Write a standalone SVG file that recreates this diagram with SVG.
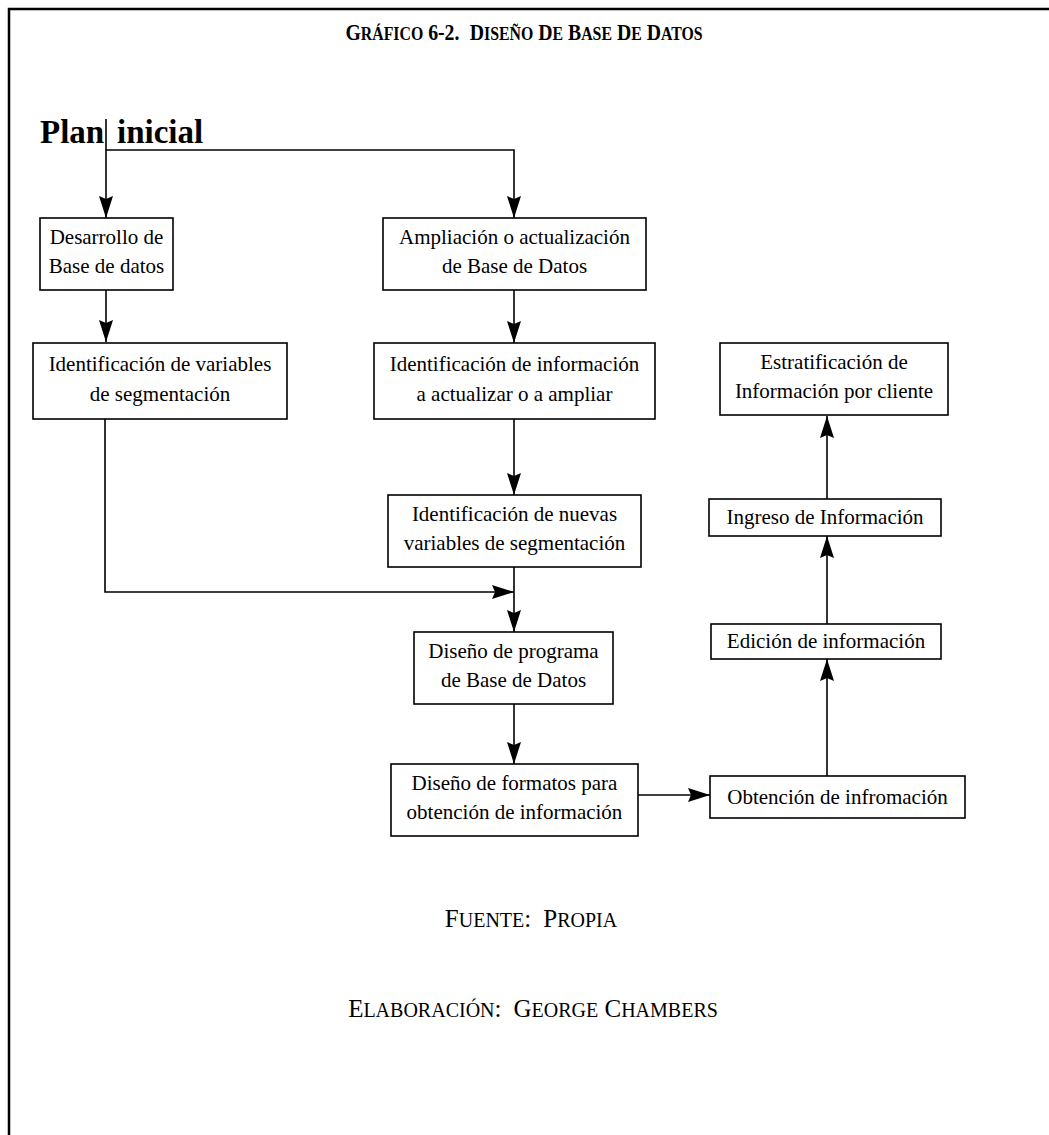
<svg xmlns="http://www.w3.org/2000/svg" width="1049" height="1135" viewBox="0 0 1049 1135">
  <style>
    .frame { fill: none; stroke: #000; stroke-width: 2.5; }
    .box { fill: #fff; stroke: #000; stroke-width: 1.6; }
    .wire { fill: none; stroke: #000; stroke-width: 1.6; }
    .lbl { font-family: "Liberation Serif", "Times New Roman", serif; font-size: 21px; text-anchor: middle; fill: #000; }
    .title { font-family: "Liberation Serif", "Times New Roman", serif; font-weight: bold; font-size: 23px; fill: #000; text-anchor: middle; }
    .head { font-family: "Liberation Serif", "Times New Roman", serif; font-weight: bold; font-size: 33px; fill: #000; }
    .foot { font-family: "Liberation Serif", "Times New Roman", serif; font-size: 25px; fill: #000; text-anchor: middle; }
    .sc { font-size: 0.8em; }
  </style>
  <defs>
    <marker id="arrow" viewBox="0 0 22 14" refX="22" refY="7" markerWidth="22" markerHeight="14" markerUnits="userSpaceOnUse" orient="auto">
      <path d="M0,0 L22,7 L0,14 L3,7 Z" fill="#000"/>
    </marker>
  </defs>
  <rect width="1049" height="1135" fill="#fff"/>

  <!-- page frame: top rule and left rule -->
  <path class="frame" d="M1049,9 H9 V1135"/>

  <!-- heading, set in small capitals and slightly condensed -->
  <g transform="translate(524,40) scale(0.86,1)">
    <text class="title" x="0" y="0">G<tspan class="sc">RÁFICO</tspan> 6-2.<tspan dx="12">D</tspan><tspan class="sc">ISEÑO</tspan> D<tspan class="sc">E</tspan> B<tspan class="sc">ASE</tspan> D<tspan class="sc">E</tspan> D<tspan class="sc">ATOS</tspan></text>
  </g>

  <text class="head" y="143"><tspan x="40">Plan</tspan><tspan x="117">inicial</tspan></text>

  <!-- connectors -->
  <g id="connectors">
    <path class="wire" d="M106,119 V218" marker-end="url(#arrow)"/>
    <path class="wire" d="M106,150 H514 V218" marker-end="url(#arrow)"/>
    <path class="wire" d="M106,290 V342" marker-end="url(#arrow)"/>
    <path class="wire" d="M514,290 V343" marker-end="url(#arrow)"/>
    <path class="wire" d="M514,419 V495" marker-end="url(#arrow)"/>
    <path class="wire" d="M105,419 V592 H514" marker-end="url(#arrow)"/>
    <path class="wire" d="M514,567 V632" marker-end="url(#arrow)"/>
    <path class="wire" d="M514,704 V764" marker-end="url(#arrow)"/>
    <path class="wire" d="M638,795 H710" marker-end="url(#arrow)"/>
    <path class="wire" d="M827,776 V659" marker-end="url(#arrow)"/>
    <path class="wire" d="M827,624 V536" marker-end="url(#arrow)"/>
    <path class="wire" d="M827,499 V416" marker-end="url(#arrow)"/>
  </g>

  <!-- process steps -->
  <g id="desarrollo">
    <rect class="box" x="40" y="218" width="133" height="72"/>
    <text class="lbl" x="106.5" y="244">Desarrollo de</text>
    <text class="lbl" x="106.5" y="273">Base de datos</text>
  </g>
  <g id="ampliacion">
    <rect class="box" x="383" y="218" width="263" height="72"/>
    <text class="lbl" x="514.5" y="244">Ampliación o actualización</text>
    <text class="lbl" x="514.5" y="273">de Base de Datos</text>
  </g>
  <g id="variables-segmentacion">
    <rect class="box" x="33" y="343" width="254" height="76"/>
    <text class="lbl" x="160" y="371">Identificación de variables</text>
    <text class="lbl" x="160" y="401">de segmentación</text>
  </g>
  <g id="informacion-actualizar">
    <rect class="box" x="374" y="343" width="281" height="76"/>
    <text class="lbl" x="514.5" y="371">Identificación de información</text>
    <text class="lbl" x="514.5" y="401">a actualizar o a ampliar</text>
  </g>
  <g id="nuevas-variables">
    <rect class="box" x="388" y="495" width="253" height="72"/>
    <text class="lbl" x="514.5" y="521">Identificación de nuevas</text>
    <text class="lbl" x="514.5" y="550">variables de segmentación</text>
  </g>
  <g id="diseno-programa">
    <rect class="box" x="414" y="632" width="199" height="72"/>
    <text class="lbl" x="513.5" y="658">Diseño de programa</text>
    <text class="lbl" x="513.5" y="687">de Base de Datos</text>
  </g>
  <g id="diseno-formatos">
    <rect class="box" x="391" y="764" width="247" height="72"/>
    <text class="lbl" x="514.5" y="790">Diseño de formatos para</text>
    <text class="lbl" x="514.5" y="819">obtención de información</text>
  </g>
  <g id="obtencion">
    <rect class="box" x="710" y="776" width="255" height="42"/>
    <text class="lbl" x="837.5" y="804">Obtención de infromación</text>
  </g>
  <g id="edicion">
    <rect class="box" x="711" y="624" width="230" height="35"/>
    <text class="lbl" x="826" y="648">Edición de información</text>
  </g>
  <g id="ingreso">
    <rect class="box" x="709" y="499" width="232" height="37"/>
    <text class="lbl" x="825" y="524">Ingreso de Información</text>
  </g>
  <g id="estratificacion">
    <rect class="box" x="720" y="343" width="228" height="72"/>
    <text class="lbl" x="834" y="369">Estratificación de</text>
    <text class="lbl" x="834" y="398">Información por cliente</text>
  </g>

  <!-- source and credits -->
  <text class="foot" x="531" y="927">F<tspan class="sc">UENTE</tspan>:<tspan dx="12">P</tspan><tspan class="sc">ROPIA</tspan></text>
  <text class="foot" x="533" y="1017">E<tspan class="sc">LABORACIÓN</tspan>:<tspan dx="12">G</tspan><tspan class="sc">EORGE</tspan> C<tspan class="sc">HAMBERS</tspan></text>
</svg>
